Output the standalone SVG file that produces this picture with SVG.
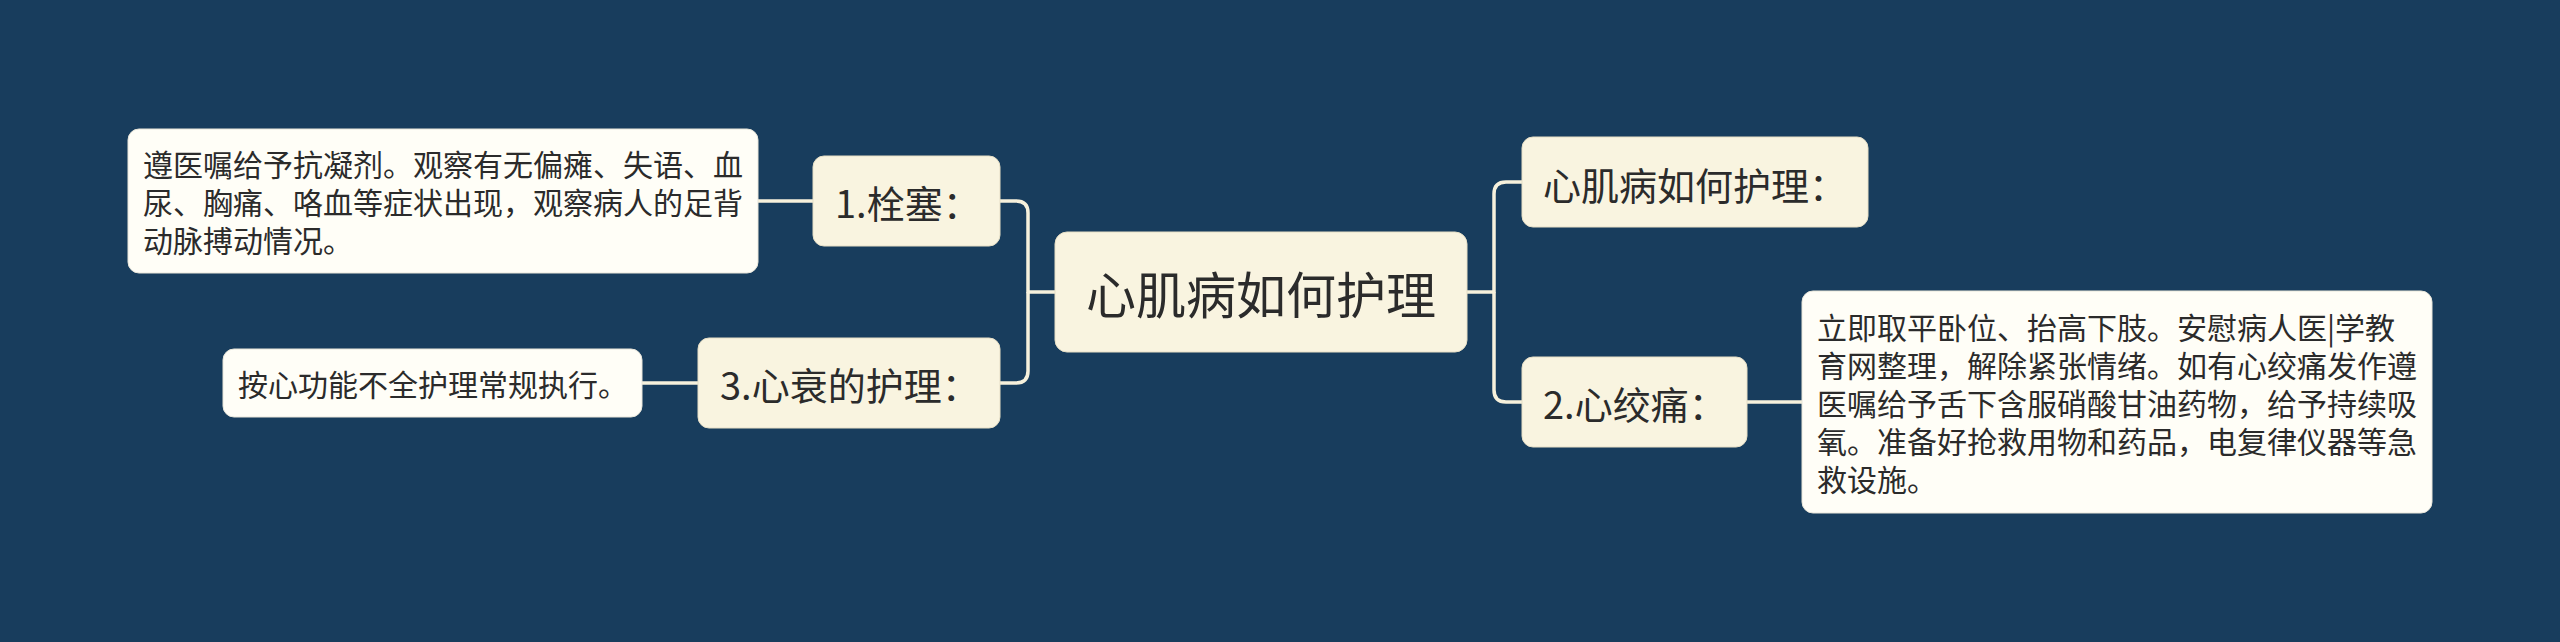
<svg xmlns="http://www.w3.org/2000/svg" width="2560" height="642" viewBox="0 0 2560 642">
<style>
.bg{fill:#183D5D}
.n{fill:#F9F4E0;stroke:#E6DFC6;stroke-width:1}
.leaf{fill:#FFFEF7;stroke:#E8E6DA;stroke-width:1}
.t{font-family:"Noto Sans CJK SC","Noto Sans",sans-serif;fill:#2B2B2B;dominant-baseline:central}
.t1{font-size:38px}
.t0{font-size:50px}
.t2{font-size:30px}
.c{fill:none;stroke:#F6F1DC;stroke-width:3.5;stroke-linejoin:round}
</style>
<rect class="bg" x="0" y="0" width="2560" height="642"/>
<g id="connectors">
<path class="c" d="M1055,292 H1028 V213 Q1028,201 1016,201 H1000"/>
<path class="c" d="M1028,292 V371 Q1028,383 1016,383 H1000"/>
<path class="c" d="M1467,292 H1494 V194 Q1494,182 1506,182 H1522"/>
<path class="c" d="M1494,292 V390 Q1494,402 1506,402 H1522"/>
<path class="c" d="M758,201 H813"/>
<path class="c" d="M642,383 H698"/>
<path class="c" d="M1747,402 H1802"/>
</g>
<g id="root">
<rect class="n" x="1055" y="232" width="412" height="120" rx="12"/>
<text class="t t0" x="1261" y="292" text-anchor="middle">心肌病如何护理</text>
</g>
<g id="n-right1">
<rect class="n" x="1522" y="137" width="346" height="90" rx="11"/>
<text class="t t1" x="1543" y="183">心肌病如何护理：</text>
</g>
<g id="n-right2">
<rect class="n" x="1522" y="357" width="225" height="90" rx="11"/>
<text class="t t1" x="1543" y="402">2.心绞痛：</text>
</g>
<g id="n-left1">
<rect class="n" x="813" y="156" width="187" height="90" rx="11"/>
<text class="t t1" x="835" y="201">1.栓塞：</text>
</g>
<g id="n-left3">
<rect class="n" x="698" y="338" width="302" height="90" rx="11"/>
<text class="t t1" x="720" y="383">3.心衰的护理：</text>
</g>
<g id="leaf-left1">
<rect class="leaf" x="128" y="129" width="630" height="144" rx="11"/>
<text class="t t2" x="143" y="163">遵医嘱给予抗凝剂。观察有无偏瘫、失语、血</text>
<text class="t t2" x="143" y="201">尿、胸痛、咯血等症状出现，观察病人的足背</text>
<text class="t t2" x="143" y="239">动脉搏动情况。</text>
</g>
<g id="leaf-left3">
<rect class="leaf" x="223" y="349" width="419" height="68" rx="11"/>
<text class="t t2" x="238" y="383">按心功能不全护理常规执行。</text>
</g>
<g id="leaf-right2">
<rect class="leaf" x="1802" y="291" width="630" height="222" rx="11"/>
<text class="t t2" x="1817" y="326">立即取平卧位、抬高下肢。安慰病人医|学教</text>
<text class="t t2" x="1817" y="364">育网整理，解除紧张情绪。如有心绞痛发作遵</text>
<text class="t t2" x="1817" y="402">医嘱给予舌下含服硝酸甘油药物，给予持续吸</text>
<text class="t t2" x="1817" y="440">氧。准备好抢救用物和药品，电复律仪器等急</text>
<text class="t t2" x="1817" y="478">救设施。</text>
</g>
</svg>
